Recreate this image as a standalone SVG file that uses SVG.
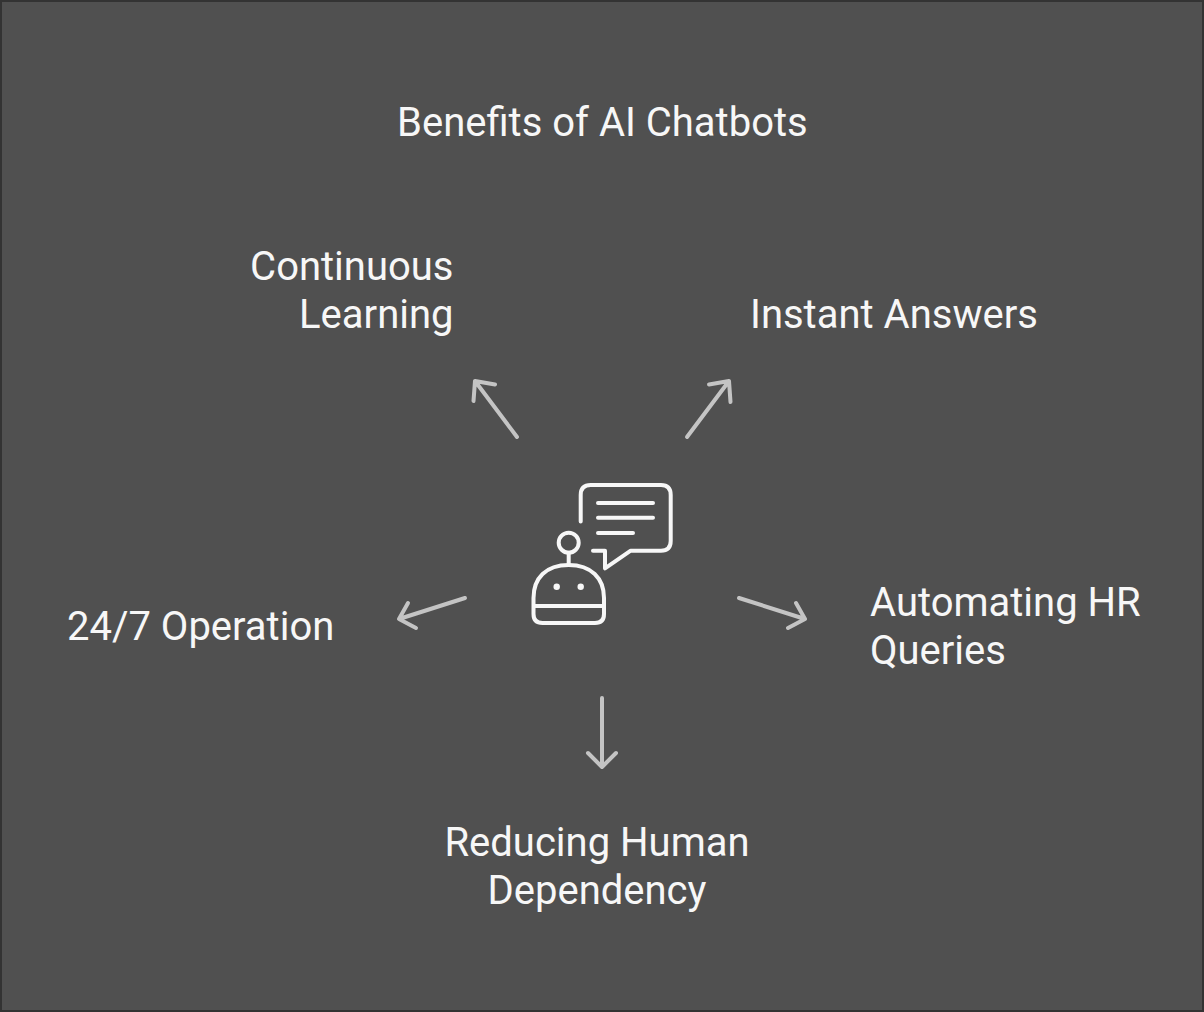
<svg xmlns="http://www.w3.org/2000/svg" width="1204" height="1012" viewBox="0 0 1204 1012">
<style>
.t{font-family:Roboto,"Liberation Sans",sans-serif;font-size:40px;fill:#f7f7f7}
.c{fill:none;stroke:#c4c4c4;stroke-width:4;stroke-linecap:round;stroke-linejoin:round}
.i{fill:none;stroke:#f7f7f7;stroke-width:4;stroke-linecap:round;stroke-linejoin:round}
</style>
<rect x="1" y="1" width="1202" height="1010" fill="#505050" stroke="#333333" stroke-width="2"/>
<g id="title"><text class="t" x="397" y="136">Benefits of AI Chatbots</text></g>
<g id="connectors">
<path class="c" d="M517 437L475 381M473.500 401L475 381L495 384.500"/>
<path class="c" d="M687 437L729 381M709 384.500L729 381L730.500 402"/>
<path class="c" d="M465 598L399 619M408 603L399 619L416 628"/>
<path class="c" d="M739 598L805 619M796 603L805 619L788 628"/>
<path class="c" d="M602 698L602 767M588 753L602 767L616 753"/>
</g>
<g id="hub">
<path class="i" d="M580.700 521.500V495Q580.700 485 590.700 485H661Q670.700 485 670.700 495V541Q670.700 550.700 661 550.700H630.700L605 568.300V550.700H593"/>
<path class="i" d="M598 503H653M598 517.700H653M598 533H633"/>
<circle class="i" cx="568.700" cy="542.700" r="10"/>
<path class="i" d="M568.700 552.700V565"/>
<path class="i" d="M533.500 598C533.500 578 546 565 568.700 565C591 565 604 578 604 598V614Q604 623 595 623H542.500Q533.500 623 533.500 614ZM533.500 606H604"/>
<circle cx="556.700" cy="586.700" r="3.200" fill="#f7f7f7"/>
<circle cx="580.700" cy="586.700" r="3.200" fill="#f7f7f7"/>
</g>
<g id="continuous-learning"><text class="t" text-anchor="end" x="453.500" y="280">Continuous</text><text class="t" text-anchor="end" x="453.500" y="328">Learning</text></g>
<g id="instant-answers"><text class="t" x="750" y="328">Instant Answers</text></g>
<g id="operation"><text class="t" x="67" y="640">24/7 Operation</text></g>
<g id="automating"><text class="t" x="870" y="616">Automating HR</text><text class="t" x="870" y="664">Queries</text></g>
<g id="reducing"><text class="t" text-anchor="middle" x="597" y="856">Reducing Human</text><text class="t" text-anchor="middle" x="597" y="904">Dependency</text></g>
</svg>
